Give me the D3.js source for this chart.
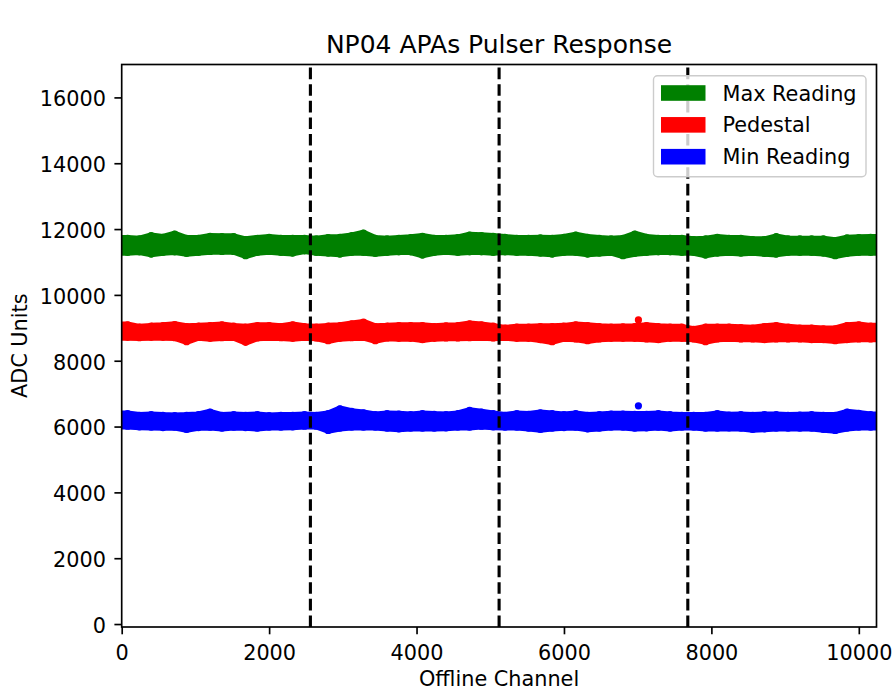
<!DOCTYPE html>
<html>
<head>
<meta charset="utf-8">
<script src="https://cdn.jsdelivr.net/npm/d3@7"></script>
<style>
  html, body { margin: 0; padding: 0; background: #fff; }
  svg { display: block; font-family: "DejaVu Sans", sans-serif; }
</style>
</head>
<body>
<svg id="chart" width="895" height="692"></svg>
<script>
// ---- data ---------------------------------------------------------------
const channelCount = 10240;          // offline channels across the 4 APAs
const binWidth = 160;                // channels per summary bin
const apaBoundaries = [2560, 5120, 7680];
const xTicks = [0, 2000, 4000, 6000, 8000, 10000];
const yTicks = [0, 2000, 4000, 6000, 8000, 10000, 12000, 14000, 16000];

const seriesNames  = ["Max Reading", "Pedestal", "Min Reading"];
const seriesColors = ["green", "red", "blue"];

// highest / lowest reading in each 160-channel bin (ADC units)
const maxReadingHigh = [
  11720, 11700, 11800, 11750, 11850, 11720, 11720, 11780, 11770, 11770, 11680, 11720, 11750, 11720, 11720, 11720,
  11700, 11740, 11750, 11800, 11880, 11720, 11700, 11720, 11740, 11780, 11720, 11720, 11740, 11820, 11800, 11780,
  11750, 11720, 11720, 11730, 11720, 11750, 11820, 11750, 11720, 11700, 11720, 11850, 11750, 11720, 11720, 11720,
  11680, 11700, 11750, 11720, 11720, 11680, 11680, 11770, 11700, 11700, 11700, 11700, 11650, 11730, 11740, 11750
];
const maxReadingLow = [
  11290, 11310, 11240, 11290, 11310, 11260, 11290, 11320, 11320, 11320, 11190, 11290, 11320, 11290, 11270, 11340,
  11290, 11270, 11240, 11290, 11290, 11260, 11290, 11310, 11310, 11210, 11290, 11320, 11290, 11310, 11310, 11290,
  11310, 11290, 11290, 11270, 11240, 11290, 11290, 11240, 11270, 11290, 11190, 11260, 11290, 11310, 11310, 11290,
  11290, 11210, 11270, 11290, 11270, 11290, 11260, 11240, 11290, 11290, 11290, 11270, 11190, 11260, 11290, 11290
];
const pedestalHigh = [
  9090, 9020, 9050, 9070, 9100, 9040, 9050, 9070, 9090, 9050, 9020, 9070, 9070, 9040, 9090, 9040,
  9020, 9050, 9070, 9120, 9170, 9040, 9050, 9070, 9070, 9070, 9040, 9060, 9070, 9120, 9090, 9050,
  8990, 9020, 9020, 9040, 9040, 9050, 9090, 9070, 9040, 9020, 9030, 9040, 9070, 9040, 9020, 9020,
  8950, 9020, 9020, 9020, 9010, 8990, 9040, 9070, 9020, 8990, 8990, 8970, 8970, 9070, 9090, 9050
];
const pedestalLow = [
  8710, 8700, 8710, 8710, 8700, 8580, 8710, 8680, 8700, 8710, 8560, 8690, 8710, 8700, 8680, 8710,
  8690, 8610, 8680, 8700, 8710, 8610, 8690, 8680, 8680, 8640, 8680, 8690, 8690, 8700, 8710, 8690,
  8710, 8680, 8680, 8640, 8580, 8680, 8660, 8610, 8660, 8680, 8680, 8680, 8660, 8640, 8680, 8680,
  8660, 8580, 8660, 8680, 8660, 8660, 8640, 8660, 8660, 8660, 8640, 8640, 8610, 8640, 8660, 8660
];
const minReadingHigh = [
  6390, 6340, 6360, 6340, 6330, 6340, 6360, 6440, 6340, 6360, 6340, 6360, 6330, 6340, 6340, 6360,
  6340, 6390, 6540, 6460, 6420, 6360, 6390, 6380, 6360, 6390, 6370, 6360, 6390, 6490, 6440, 6390,
  6340, 6390, 6370, 6420, 6390, 6360, 6390, 6340, 6360, 6380, 6380, 6370, 6370, 6390, 6360, 6340,
  6340, 6340, 6390, 6350, 6360, 6340, 6360, 6360, 6340, 6350, 6360, 6340, 6340, 6440, 6400, 6360
];
const minReadingLow = [
  6010, 5990, 5980, 5970, 5980, 5910, 5970, 5980, 5950, 5980, 5970, 5950, 5980, 5980, 5990, 6010,
  6010, 5880, 5950, 5980, 5980, 5980, 5950, 5930, 5950, 5950, 5950, 5960, 5980, 5980, 6010, 5990,
  5980, 5980, 5950, 5910, 5950, 5970, 5980, 5930, 5950, 5980, 5980, 5950, 5960, 5980, 5950, 5980,
  5980, 5950, 5950, 5960, 5950, 5910, 5930, 5950, 5950, 5950, 5950, 5910, 5880, 5950, 5980, 5980
];

// isolated channels standing out from their band
const outlierSeries   = [1, 2];
const outlierChannels = [7010, 7010];
const outlierValues   = [9240, 6630];

// ---- layout -------------------------------------------------------------
const W = 895, H = 692;
const plot = { left: 121.7, right: 876.5, top: 64.5, bottom: 627 };
const fontSize = 20.8;
const dotDiameter = 6.6;

const svg = d3.select("#chart");

const x = d3.scaleLinear().domain([0, channelCount]).range([plot.left, plot.right]);
const y = d3.scaleLinear().domain([-90, 17000]).range([plot.bottom, plot.top]);

svg.append("defs").append("clipPath").attr("id", "plot-clip")
  .append("rect")
  .attr("x", plot.left).attr("y", plot.top)
  .attr("width", plot.right - plot.left).attr("height", plot.bottom - plot.top);

// ---- bands of per-channel readings ------------------------------------------
const bands = [
  { high: maxReadingHigh, low: maxReadingLow },
  { high: pedestalHigh,   low: pedestalLow },
  { high: minReadingHigh, low: minReadingLow }
];

const area = d3.area()
  .x(d => x(d.c))
  .y0(d => y(d.lo))
  .y1(d => y(d.hi));

const dataLayer = svg.append("g").attr("clip-path", "url(#plot-clip)");

bands.forEach((b, s) => {
  const pts = b.high.map((hi, i) => ({ c: i * binWidth + binWidth / 2, hi: hi, lo: b.low[i] }));
  const first = pts[0], last = pts[pts.length - 1];
  const path = [{ c: 0, hi: first.hi, lo: first.lo }, ...pts, { c: channelCount, hi: last.hi, lo: last.lo }];
  const g = dataLayer.append("g").attr("fill", seriesColors[s]);
  g.append("path")
    .attr("d", area(path))
    .attr("stroke", seriesColors[s])
    .attr("stroke-width", dotDiameter)
    .attr("stroke-linejoin", "round");
  // the extreme reading of each bin, drawn as a marker on the band edge
  g.selectAll("circle")
    .data(pts.flatMap(p => [{ c: p.c, v: p.hi }, { c: p.c, v: p.lo }]))
    .join("circle")
    .attr("cx", d => x(d.c))
    .attr("cy", d => y(d.v))
    .attr("r", dotDiameter / 2 + 0.3);
});

dataLayer.selectAll("circle.outlier")
  .data(outlierChannels.map((c, i) => ({ c, v: outlierValues[i], s: outlierSeries[i] })))
  .join("circle")
  .attr("class", "outlier")
  .attr("cx", d => x(d.c))
  .attr("cy", d => y(d.v))
  .attr("r", dotDiameter / 2 + 0.3)
  .attr("fill", d => seriesColors[d.s]);

// ---- APA boundaries ---------------------------------------------------------
svg.append("g").selectAll("line")
  .data(apaBoundaries)
  .join("line")
  .attr("x1", d => x(d)).attr("x2", d => x(d))
  .attr("y1", plot.bottom).attr("y2", plot.top)
  .attr("stroke", "#000")
  .attr("stroke-width", 3.1)
  .attr("stroke-dasharray", "11.6,5");

// ---- axes -------------------------------------------------------------------
const tickLen = 7.3;

const xAxis = svg.append("g")
  .attr("transform", `translate(0,${plot.bottom})`)
  .call(d3.axisBottom(x).tickValues(xTicks).tickFormat(d3.format("d"))
    .tickSize(tickLen).tickSizeOuter(0).tickPadding(11));

const yAxis = svg.append("g")
  .attr("transform", `translate(${plot.left},0)`)
  .call(d3.axisLeft(y).tickValues(yTicks).tickFormat(d3.format("d"))
    .tickSize(tickLen).tickSizeOuter(0).tickPadding(8.4));

[xAxis, yAxis].forEach(g => {
  g.select(".domain").remove();
  g.selectAll(".tick line").attr("stroke", "#000").attr("stroke-width", 1.67);
  g.selectAll(".tick text")
    .attr("fill", "#000")
    .style("font-family", "'DejaVu Sans', sans-serif")
    .style("font-size", fontSize + "px");
});
yAxis.selectAll(".tick text").attr("dy", "0.4em");

// frame
svg.append("rect")
  .attr("x", plot.left).attr("y", plot.top)
  .attr("width", plot.right - plot.left).attr("height", plot.bottom - plot.top)
  .attr("fill", "none").attr("stroke", "#000").attr("stroke-width", 1.67);

// ---- labels -----------------------------------------------------------------
const midX = (plot.left + plot.right) / 2;
const midY = (plot.top + plot.bottom) / 2;

svg.append("text")
  .attr("x", midX).attr("y", 52.5)
  .attr("text-anchor", "middle")
  .style("font-size", "25px")
  .text("NP04 APAs Pulser Response");

svg.append("text")
  .attr("x", midX).attr("y", 686)
  .attr("text-anchor", "middle")
  .style("font-size", fontSize + "px")
  .text("Offline Channel");

svg.append("text")
  .attr("transform", `translate(26.7,${midY}) rotate(-90)`)
  .attr("text-anchor", "middle")
  .style("font-size", fontSize + "px")
  .text("ADC Units");

// ---- legend -----------------------------------------------------------------
const legend = svg.append("g");
legend.append("rect")
  .attr("x", 653.5).attr("y", 75.7)
  .attr("width", 212.5).attr("height", 101)
  .attr("rx", 4).attr("ry", 4)
  .attr("fill", "#fff").attr("fill-opacity", 0.8)
  .attr("stroke", "#cccccc").attr("stroke-width", 1.4);

const rowY = d3.scaleLinear().domain([0, 2]).range([93, 156.7]);
const rows = legend.selectAll("g.row")
  .data(seriesNames)
  .join("g")
  .attr("class", "row")
  .attr("transform", (d, i) => `translate(0,${rowY(i)})`);

rows.append("rect")
  .attr("x", 661).attr("y", -7.8)
  .attr("width", 44.5).attr("height", 15.6)
  .attr("fill", (d, i) => seriesColors[i]);

rows.append("text")
  .attr("x", 722.5).attr("y", 7.6)
  .style("font-size", fontSize + "px")
  .text(d => d);
</script>
</body>
</html>
